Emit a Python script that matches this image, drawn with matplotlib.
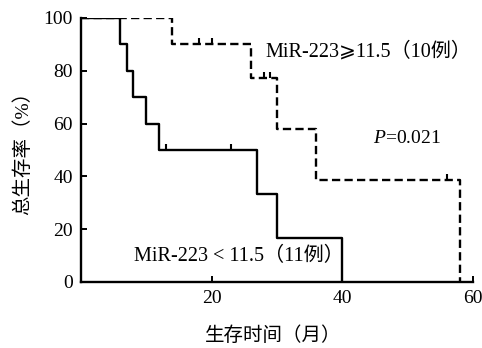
import matplotlib
matplotlib.use("Agg")
import matplotlib.pyplot as plt

plt.rcParams['font.family'] = ['Liberation Serif', 'Noto Sans CJK SC', 'DejaVu Sans']
plt.rcParams['mathtext.fontset'] = 'custom'
plt.rcParams['mathtext.it'] = 'Liberation Serif:italic'
plt.rcParams['mathtext.rm'] = 'Liberation Serif'

# Data (survival %, months)
low_t = [0, 6, 7, 8, 10, 12, 27, 30, 40]
low_s = [100, 90, 80, 70, 60, 50, 33.3, 16.7, 0]
low_cens_t = [13, 23]
low_cens_s = [50, 50]

high_t = [0, 14, 26, 30, 36, 58]
high_s = [100, 90, 77.1, 57.9, 38.6, 0]
high_cens_t = [11, 18, 20, 28, 29, 56]
high_cens_s = [100, 90, 90, 77.1, 77.1, 38.6]

x_ticks = [20, 40, 60]
y_ticks = [0, 20, 40, 60, 80, 100]

fig = plt.figure(figsize=(4.82, 3.48), dpi=100)
ax = fig.add_axes([81/482, 1-282/348, (473-81)/482, (282-18)/348])

up_tick = [(0, 0), (0, 1)]
ax.step(high_t, high_s, where='post', color='black', lw=1.7, linestyle=(0, (3.5, 1.8)))
ax.plot(high_cens_t, high_cens_s, linestyle='none', marker=up_tick, markersize=8,
        markeredgewidth=1.5, color='black')
ax.step(low_t, low_s, where='post', color='black', lw=1.7)
ax.plot(low_cens_t, low_cens_s, linestyle='none', marker=up_tick, markersize=8,
        markeredgewidth=1.5, color='black')

ax.set_xlim(0, 60)
ax.set_ylim(0, 100)
ax.set_xticks(x_ticks)
ax.set_yticks(y_ticks)
ax.tick_params(direction='in', length=4, width=1.4, labelsize=14, pad=6)
for s in ['top', 'right']:
    ax.spines[s].set_visible(False)
for s in ['left', 'bottom']:
    ax.spines[s].set_linewidth(1.7)

ax.text(28.3, 87.1, 'MiR-223⩾11.5（10例）', fontsize=14.5, va='center', ha='left')
ax.text(44.7, 54.5, '$\\it{P}$=0.021', fontsize=14, va='center', ha='left')
ax.text(8.1, 9.5, 'MiR-223 < 11.5（11例）', fontsize=14.5, va='center', ha='left')

ylab = ax.set_ylabel('总生存率（%）', fontsize=14)
ylab.set_va('center')
ax.yaxis.set_label_coords(-0.148, 0.505)
xlab = ax.set_xlabel('生存时间（月）', fontsize=14)
xlab.set_va('center')
ax.xaxis.set_label_coords(0.49, -0.205)

fig.savefig('out.png', dpi=100)
